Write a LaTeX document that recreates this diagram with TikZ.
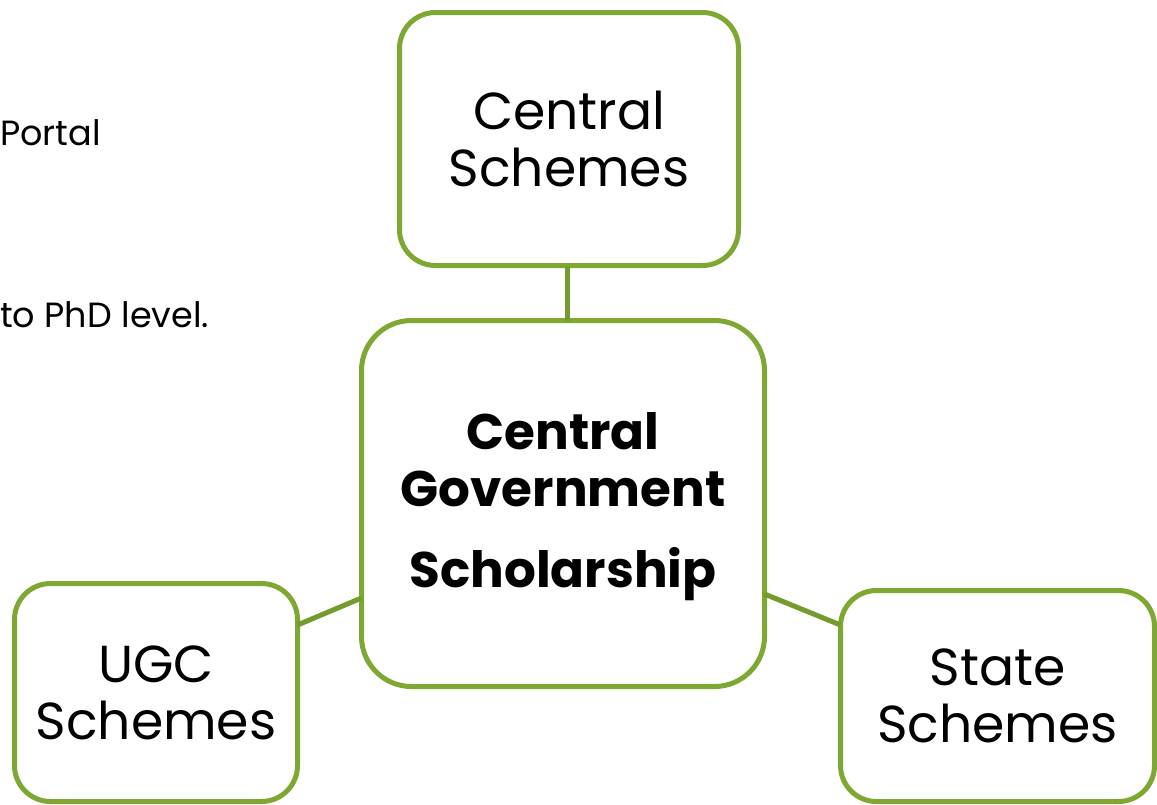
\documentclass[tikz,border=0pt]{standalone}
\usepackage{fontspec}
\setmainfont{Poppins}
\definecolor{leafgreen}{RGB}{126,168,50}
\tikzstyle{schemebox}=[rectangle,rounded corners=36pt,draw=leafgreen,line width=5pt,outer sep=0,inner sep=0,align=center,font=\fontsize{52}{57}\selectfont]
\tikzstyle{mainbox}=[schemebox,rounded corners=50pt,font=\fontsize{50}{57}\selectfont\bfseries]
\tikzstyle{link}=[draw=leafgreen!92!black,line width=5pt]
\tikzstyle{side}=[anchor=west,inner sep=0,font=\fontsize{35}{40}\selectfont]

\begin{document}
\begin{tikzpicture}[x=1pt,y=-1pt]
\useasboundingbox (0,0) rectangle (1157,804);
\clip (0,0) rectangle (1157,804);
\fill[white] (0,0) rectangle (1157,804);

% text of the page behind the chart
\node[side] (portal) at (0,133) {Portal};
\node[side] (phd) at (0,315) {to PhD level.};

% boxes
\node[schemebox,minimum width=339pt,minimum height=253pt] (central) at (569,139) {Central\\Schemes};
\node[mainbox,minimum width=403pt,minimum height=366pt] (govt) at (563,503.5) {\\[-14pt]Central\\Government\\[24pt]Scholarship};
\node[schemebox,minimum width=283pt,minimum height=218pt] (ugc) at (156,692.5) {UGC\\Schemes};
\node[schemebox,minimum width=314pt,minimum height=211pt] (state) at (997.5,696) {State\\Schemes};

% connectors
\draw[link] (central.south -| 567,0) -- (govt.north -| 567,0);
\draw[link] (ugc.east |- 0,625) -- (govt.west |- 0,598);
\draw[link] (govt.east |- 0,594) -- (state.west |- 0,625);
\end{tikzpicture}
\end{document}
